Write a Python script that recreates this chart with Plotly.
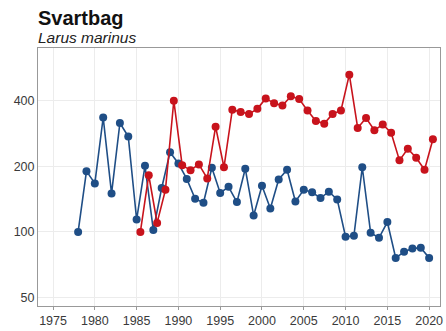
import plotly.graph_objects as go

blue_years = list(range(1978, 2021))
blue_values = [100, 190, 167, 335, 150, 316, 274, 114, 201, 102, 159, 232,
               206, 175, 142, 136, 197, 151, 161, 137, 195, 119, 163, 128,
               174, 193, 138, 156, 152, 143, 153, 141, 95, 96, 198, 99,
               94, 111, 76, 81, 84, 84.5, 76]

red_years = list(range(1985, 2021))
red_offset = 0.45
red_values = [100, 182, 110, 156, 400, 202, 192, 204, 176, 304, 198, 364,
              355, 348, 367, 410, 389, 380, 419, 407, 361, 323, 314, 348,
              361, 527, 300, 333, 293, 311, 285, 213, 241, 219, 193, 266]

x_ticks = [1975, 1980, 1985, 1990, 1995, 2000, 2005, 2010, 2015, 2020]
y_ticks = [50, 100, 200, 400]

title_text = "Svartbag"
subtitle_text = "Larus marinus"

blue_color = "#1F4E86"
red_color = "#C8131C"

fig = go.Figure()
fig.add_trace(go.Scatter(
    x=blue_years, y=blue_values, mode="lines+markers",
    line=dict(color=blue_color, width=1.6),
    marker=dict(color=blue_color, size=8),
    showlegend=False, hoverinfo="skip"))
fig.add_trace(go.Scatter(
    x=[y + red_offset for y in red_years], y=red_values, mode="lines+markers",
    line=dict(color=red_color, width=1.6),
    marker=dict(color=red_color, size=8),
    showlegend=False, hoverinfo="skip"))

fig.update_layout(
    width=446, height=331,
    margin=dict(l=38, r=3, t=48, b=20),
    paper_bgcolor="white", plot_bgcolor="white",
    font=dict(family="Liberation Sans, Arial, sans-serif", size=12, color="#3a3a3a"),
    annotations=[
        dict(text="<b>" + title_text + "</b>", xref="paper", yref="paper",
             x=0, y=1, xanchor="left", yanchor="bottom", yshift=17, xshift=-2,
             showarrow=False, font=dict(size=20, color="#111111")),
        dict(text="<i>" + subtitle_text + "</i>", xref="paper", yref="paper",
             x=0, y=1, xanchor="left", yanchor="bottom", yshift=0, xshift=-2,
             showarrow=False, font=dict(size=15.5, color="#222222")),
    ],
)
fig.update_xaxes(
    range=[1973.2, 2021.3], tickvals=x_ticks, ticktext=[str(v) for v in x_ticks],
    showgrid=True, gridcolor="#ECECEC", gridwidth=1,
    showline=True, linecolor="#999999", linewidth=1, mirror=True,
    ticks="outside", ticklen=3, tickcolor="#999999",
    zeroline=False, tickfont=dict(size=12.5, color="#3a3a3a"))
fig.update_yaxes(
    type="log", range=[1.66, 2.844], tickvals=y_ticks, ticktext=[str(v) for v in y_ticks],
    showgrid=True, gridcolor="#ECECEC", gridwidth=1,
    showline=True, linecolor="#999999", linewidth=1, mirror=True,
    ticks="", zeroline=False, tickfont=dict(size=12.5, color="#3a3a3a"))

fig.write_html(
    "out.html",
    config={"displayModeBar": False, "staticPlot": True},
    post_script="document.body.style.margin='0';document.body.style.padding='0';"
                "document.body.style.overflow='hidden';",
)
